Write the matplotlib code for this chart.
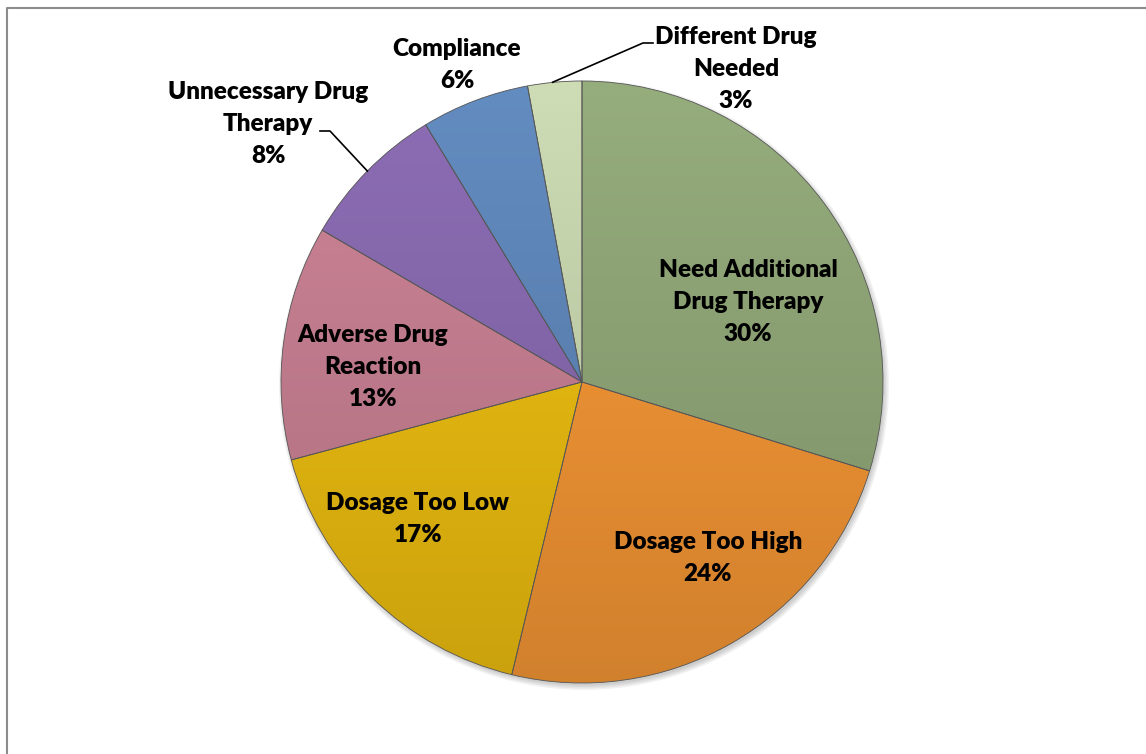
import matplotlib
matplotlib.use("Agg")
import matplotlib.pyplot as plt
import matplotlib.colors as mcolors
from matplotlib.patches import Circle
import numpy as np

categories = ["Need Additional\nDrug Therapy", "Dosage Too High", "Dosage Too Low",
              "Adverse Drug\nReaction", "Unnecessary Drug\nTherapy", "Compliance",
              "Different Drug\nNeeded"]
values = [29.8, 24.0, 17.1, 12.6, 7.9, 5.8, 2.9]
colors = ["#8ca274", "#ee9233", "#e6b80f", "#c27c8e", "#8466ab", "#5c83b5", "#c2d0aa"]

W, H = 1146, 754
fig = plt.figure(figsize=(W / 100, H / 100), dpi=100)
ax = fig.add_axes([0, 0, 1, 1])

cx, cy, r = 582, H - 382, 301

# soft shadow
for i, a in enumerate([0.05, 0.05, 0.05, 0.05]):
    ax.add_patch(Circle((cx + 2, cy - 3), r + 4 - i * 1.5, color="black", alpha=a, lw=0, zorder=0.5))

wedges, _ = ax.pie(values, colors=colors, startangle=90, counterclock=False,
                   center=(cx, cy), radius=r,
                   wedgeprops=dict(edgecolor="#555555", linewidth=0.6))

# top-to-bottom gradient in each slice
for w, c in zip(wedges, colors):
    base = np.array(mcolors.to_rgb(c))
    t = np.linspace(0, 1, 256)[:, None]
    top = np.clip(base * 1.05 + 0.01, 0, 1)
    bot = base * 0.88
    grad = (top * (1 - t) + bot * t)[:, None, :]
    im = ax.imshow(grad, extent=[cx - r, cx + r, cy - r, cy + r], origin="upper",
                   aspect="auto", zorder=0.9, interpolation="bilinear")
    im.set_clip_path(w)
    w.set_facecolor("none")
    w.set_zorder(1)

pcts = ["%.0f%%" % v for v in values]
font = dict(family="Lato", weight="heavy", size=17.5, color="black",
            ha="center", va="center", linespacing=1.55)

# label positions in pixel layout (x, y from top)
pos = [(748, 302), (708, 558), (418, 519), (373, 367), (268, 124), (457, 65), (736, 69)]
for lab, p, (x, y) in zip(categories, pcts, pos):
    ax.text(x, H - y, lab + "\n" + p, zorder=5, **font)

# leader lines for the two small outside labels
def edge_point(w):
    ang = np.deg2rad((w.theta1 + w.theta2) / 2)
    return cx + r * np.cos(ang), cy + r * np.sin(ang)

ex, ey = edge_point(wedges[6])
ax.plot([ex - 2, 643, 653], [ey, H - 43, H - 43], color="black", lw=1.2, zorder=4)
ex, ey = edge_point(wedges[4])
ax.plot([ex, 330, 320], [ey, H - 131, H - 131], color="black", lw=1.2, zorder=4)

ax.set_xlim(0, W)
ax.set_ylim(0, H)
ax.set_aspect("equal")
ax.axis("off")

# chart frame (only top and left edges visible)
ax.plot([6.5, 6.5, W], [0, H - 7.5, H - 7.5], color="#8c8c8c", lw=1.5, zorder=6)

fig.savefig("out.png", dpi=100)
